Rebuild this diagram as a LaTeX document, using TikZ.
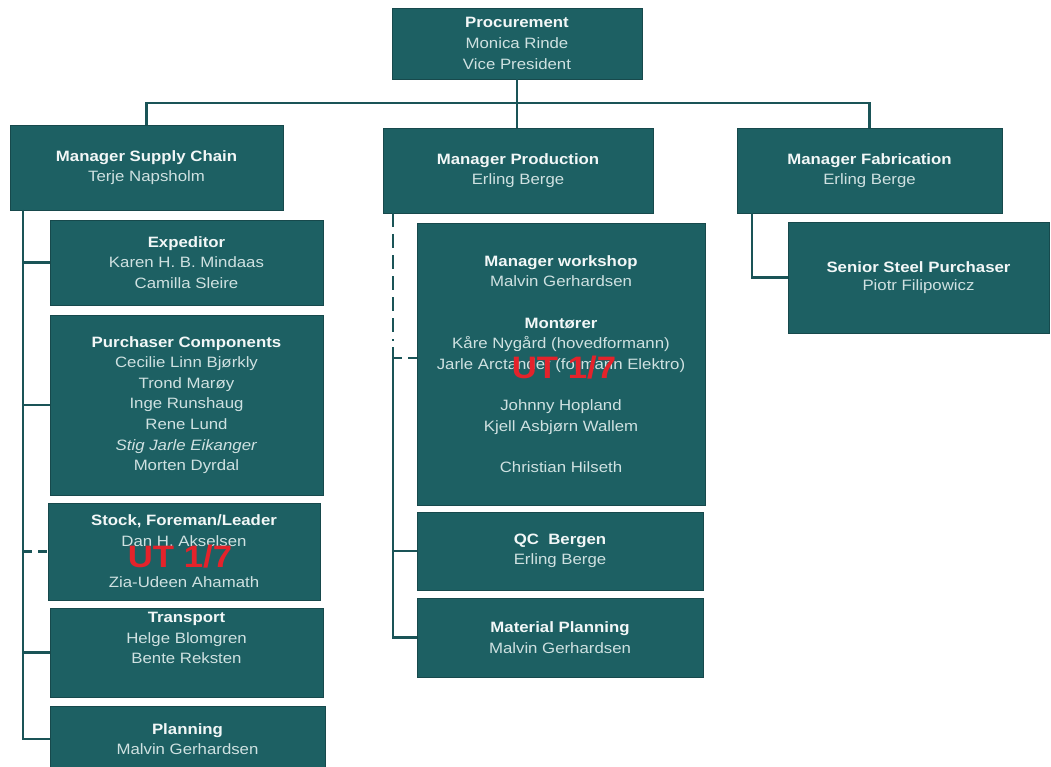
\documentclass[tikz,border=0pt]{standalone}
\usepackage{fontspec}
\setmainfont[FakeStretch=1.12]{Liberation Sans}
\definecolor{boxfill}{HTML}{1D6063}
\definecolor{boxedge}{HTML}{17494C}
\definecolor{linecol}{HTML}{1A5457}
\definecolor{headcol}{HTML}{F2F7F7}
\definecolor{namecol}{HTML}{CFE1E1}
\definecolor{utred}{HTML}{E4232B}
\newcommand\hd[1]{{\bfseries\color{headcol}#1}}
\begin{document}
\begin{tikzpicture}[x=1pt,y=-1pt,
  box/.style={rectangle, fill=boxfill, draw=boxedge, line width=0.8pt, inner sep=0pt,
    align=center, text=namecol, font=\fontsize{15}{20.6}\selectfont},
  conn/.style={draw=linecol, line width=2.6pt},
  conndash/.style={conn, dash pattern=on 14pt off 7pt},
  stamp/.style={text=utred, font=\bfseries\fontsize{31}{33}\selectfont, inner sep=0pt}]
\useasboundingbox[fill=white] (0,0) rectangle (1051,767);

% top level
\node[box, minimum width=250pt, minimum height=71pt] (top) at (517,43.5)
  {\hd{Procurement}\\Monica Rinde\\Vice President};

% managers
\node[box, minimum width=273pt, minimum height=85pt] (msc) at (146.5,167.5)
  {\hd{Manager Supply Chain}\\Terje Napsholm};
\node[box, minimum width=270pt, minimum height=85pt] (mp) at (518,170.5)
  {\hd{Manager Production}\\Erling Berge};
\node[box, minimum width=265pt, minimum height=85pt] (mf) at (869.5,170.5)
  {\hd{Manager Fabrication}\\Erling Berge};

% supply chain column
\node[box, minimum width=273pt, minimum height=85pt] (exp) at (186.5,262.5)
  {\hd{Expeditor}\\Karen H. B. Mindaas\\Camilla Sleire};
\node[box, minimum width=273pt, minimum height=180pt] (pc) at (186.5,405)
  {\hd{Purchaser Components}\\Cecilie Linn Bjørkly\\Trond Marøy\\Inge Runshaug\\Rene Lund\\\textit{Stig Jarle Eikanger}\\Morten Dyrdal};
\node[box, minimum width=272pt, minimum height=97pt] (stock) at (184,551.5)
  {\hd{Stock, Foreman/Leader}\\Dan H. Akselsen\\[20.6pt]Zia-Udeen Ahamath};
\node[box, minimum width=273pt, minimum height=89pt] (trans) at (186.5,652.5)
  {\hd{Transport}\\Helge Blomgren\\Bente Reksten\\[8pt]};
\node[box, minimum width=275pt, minimum height=66pt] (plan) at (187.5,739)
  {\hd{Planning}\\Malvin Gerhardsen};

% production column
\node[box, minimum width=288pt, minimum height=282pt] (mw) at (561,364)
  {\hd{Manager workshop}\\Malvin Gerhardsen\\[20.6pt]\hd{Montører}\\Kåre Nygård (hovedformann)\\Jarle Arctander (formann Elektro)\\[20.6pt]Johnny Hopland\\Kjell Asbjørn Wallem\\[20.6pt]Christian Hilseth};
\node[box, minimum width=286pt, minimum height=78pt] (qc) at (560,551)
  {\hd{QC\ \ Bergen}\\Erling Berge};
\node[box, minimum width=286pt, minimum height=79pt] (mat) at (560,637.5)
  {\hd{Material Planning}\\Malvin Gerhardsen};

% fabrication
\node[box, minimum width=261pt, minimum height=111pt] (ssp) at (918.5,277.5)
  {\hd{Senior Steel Purchaser}\\[-3pt]Piotr Filipowicz};

% connectors: top level bus
\coordinate (bus) at (0,103);
\draw[conn] (top.south) -- (top.south |- mp.north);
\draw[conn] (msc.north) -- (msc.north |- bus) -- (mf.north |- bus) -- (mf.north);

% supply chain spine
\coordinate (ls) at (23,210);
\draw[conn] (ls) |- (plan.west);
\draw[conn] (ls |- exp.west) -- (exp.west);
\draw[conn] (ls |- pc.west) -- (pc.west);
\draw[conn, dash pattern=on 9pt off 6pt] (ls |- stock.west) -- (stock.west);
\draw[conn] (ls |- trans.west) -- (trans.west);

% production spine
\coordinate (ms) at (393,213);
\coordinate (msd) at (393,341);
\coordinate (mss) at (393,347);
\coordinate (mwc) at (393,358);
\draw[conndash] (ms) -- (msd);
\draw[conn] (mss) |- (mat.west);
\draw[conn, dash pattern=on 9pt off 6pt] (mwc) -- (mwc -| mw.west);
\draw[conn] (mss |- qc.west) -- (qc.west);

% fabrication link
\coordinate (fs) at (752,213);
\draw[conn] (fs) |- (ssp.west);

% stamps
\node[stamp] (ut1) at (180,557) {UT 1/7};
\node[stamp] (ut2) at (564,368) {UT 1/7};
\end{tikzpicture}
\end{document}
